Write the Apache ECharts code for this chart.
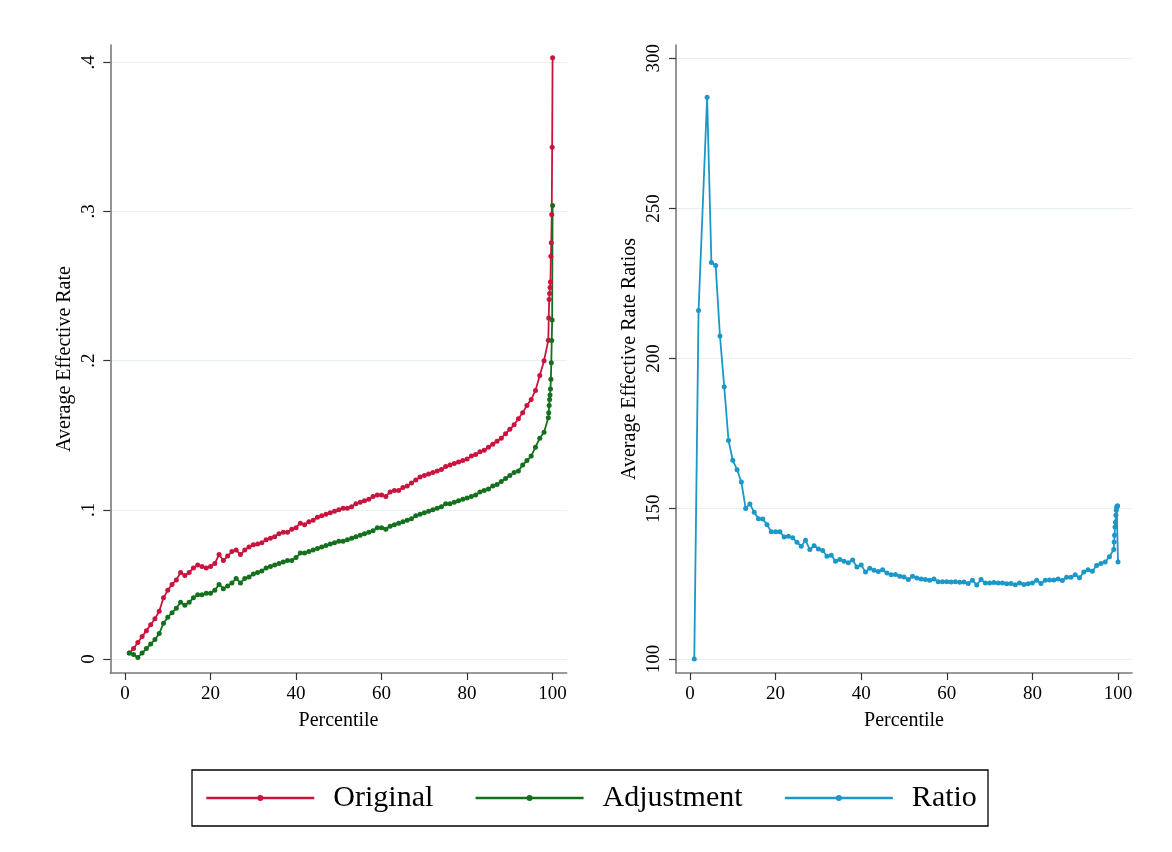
<!DOCTYPE html>
<html>
<head>
<meta charset="utf-8">
<title>Average Effective Rate by Percentile</title>
<script src="https://cdn.jsdelivr.net/npm/echarts@6/dist/echarts.min.js"></script>
<style>
  html, body { margin: 0; padding: 0; background: #ffffff; }
  #chart { width: 1172px; height: 852px; }
</style>
</head>
<body>
<div id="chart"></div>
<script>
// Percentile positions: 1..99, then the top percentile split in tenths
const percentiles = [
  1, 2, 3, 4, 5, 6, 7, 8, 9, 10,
  11, 12, 13, 14, 15, 16, 17, 18, 19, 20,
  21, 22, 23, 24, 25, 26, 27, 28, 29, 30,
  31, 32, 33, 34, 35, 36, 37, 38, 39, 40,
  41, 42, 43, 44, 45, 46, 47, 48, 49, 50,
  51, 52, 53, 54, 55, 56, 57, 58, 59, 60,
  61, 62, 63, 64, 65, 66, 67, 68, 69, 70,
  71, 72, 73, 74, 75, 76, 77, 78, 79, 80,
  81, 82, 83, 84, 85, 86, 87, 88, 89, 90,
  91, 92, 93, 94, 95, 96, 97, 98, 99,
  99.1, 99.2, 99.3, 99.4, 99.5, 99.6, 99.7, 99.8, 99.9, 100
];

// Average effective rate, original schedule
const original = [
  0.004, 0.007, 0.011, 0.015, 0.019, 0.023, 0.027, 0.032, 0.041, 0.046,
  0.050, 0.053, 0.058, 0.056, 0.058, 0.061, 0.063, 0.062, 0.061, 0.062,
  0.064, 0.070, 0.066, 0.069, 0.072, 0.073, 0.070, 0.073, 0.075, 0.0765,
  0.077, 0.078, 0.080, 0.081, 0.082, 0.084, 0.085, 0.085, 0.087, 0.088,
  0.091, 0.090, 0.092, 0.093, 0.095, 0.096, 0.097, 0.098, 0.099, 0.100,
  0.101, 0.101, 0.102, 0.104, 0.105, 0.106, 0.107, 0.109, 0.110, 0.110,
  0.109, 0.112, 0.113, 0.113, 0.115, 0.116, 0.118, 0.120, 0.122, 0.123,
  0.124, 0.125, 0.126, 0.127, 0.129, 0.130, 0.131, 0.132, 0.133, 0.134,
  0.136, 0.137, 0.139, 0.140, 0.142, 0.144, 0.146, 0.148, 0.151, 0.154,
  0.157, 0.161, 0.165, 0.170, 0.174, 0.180, 0.190, 0.200, 0.2136,
  0.2286, 0.241, 0.245, 0.249, 0.2527, 0.270, 0.279, 0.298, 0.343, 0.403
];

// Average effective rate after adjustment
const adjustment = [
  0.004, 0.003, 0.001, 0.004, 0.007, 0.010, 0.013, 0.017, 0.024, 0.028,
  0.031, 0.034, 0.038, 0.036, 0.038, 0.041, 0.043, 0.043, 0.044, 0.044,
  0.046, 0.050, 0.047, 0.049, 0.051, 0.054, 0.051, 0.054, 0.055, 0.057,
  0.058, 0.059, 0.061, 0.062, 0.063, 0.064, 0.065, 0.066, 0.066, 0.068,
  0.071, 0.071, 0.072, 0.073, 0.074, 0.075, 0.076, 0.077, 0.078, 0.079,
  0.079, 0.080, 0.081, 0.082, 0.083, 0.084, 0.085, 0.086, 0.088, 0.088,
  0.087, 0.089, 0.090, 0.091, 0.092, 0.093, 0.094, 0.096, 0.097, 0.098,
  0.099, 0.100, 0.101, 0.102, 0.104, 0.104, 0.105, 0.106, 0.107, 0.108,
  0.109, 0.110, 0.112, 0.113, 0.114, 0.116, 0.117, 0.119, 0.121, 0.123,
  0.125, 0.126, 0.130, 0.133, 0.136, 0.142, 0.148, 0.152, 0.1617,
  0.165, 0.170, 0.174, 0.177, 0.181, 0.1876, 0.1986, 0.2135, 0.2273, 0.304
];

// Ratio of original to adjusted rate (x100); percentile 3 has no ratio
const ratio = [
  100, 216, null, 287, 232, 231, 207.5, 190.6, 172.7, 166.1,
  163.0, 158.9, 150.1, 151.6, 148.8, 146.7, 146.6, 144.7, 142.3, 142.3,
  142.3, 140.6, 140.8, 140.3, 138.8, 137.5, 139.5, 136.4, 137.7, 136.6,
  136.1, 134.2, 134.5, 132.5, 133.1, 132.5, 132.0, 132.9, 130.6, 131.3,
  128.9, 130.2, 129.5, 129.1, 129.7, 128.6, 128.0, 128.1, 127.5, 127.3,
  126.4, 127.5, 126.9, 126.6, 126.4, 126.2, 126.6, 125.7, 125.7, 125.7,
  125.6, 125.7, 125.5, 125.6, 125.1, 126.2, 124.6, 126.4, 125.3, 125.3,
  125.4, 125.3, 125.3, 125.0, 125.1, 124.7, 125.3, 124.8, 125.0, 125.3,
  126.2, 125.1, 126.2, 126.3, 126.3, 126.6, 126.1, 127.2, 127.2, 128.0,
  127.0, 128.9, 129.7, 129.2, 131.1, 131.8, 132.3, 134.0, 136.4,
  138.9, 141.2, 143.9, 145.5, 147.8, 149.5, 150.5, 150.8, 151.0, 132.3
];

// Tick positions
const percentileTicks = [0, 20, 40, 60, 80, 100];
const rateTicks = [0, 0.1, 0.2, 0.3, 0.4];
const ratioTicks = [100, 150, 200, 250, 300];

const SERIF = "'Liberation Serif', 'Times New Roman', serif";
const COLORS = { original: '#c8143f', adjustment: '#14701c', ratio: '#1b97c8' };

function pairs(xs, ys) {
  return xs.map((x, i) => [x, ys[i]]);
}

function rateLabel(v) {
  if (v === 0) return '0';
  return String(Math.round(v * 10) / 10).replace(/^0\./, '.');
}

function xAxisCfg(gridIndex, min, max) {
  return {
    type: 'value', gridIndex, min, max,
    name: 'Percentile', nameLocation: 'middle', nameGap: 38,
    nameTextStyle: { fontFamily: SERIF, fontSize: 20, color: '#000' },
    axisLine: { show: true, onZero: false, lineStyle: { color: '#7a7a7a', width: 1.6 } },
    axisTick: { show: true, length: 7, customValues: percentileTicks, lineStyle: { color: '#333', width: 1.2 } },
    axisLabel: { customValues: percentileTicks, margin: 12, fontFamily: SERIF, fontSize: 19, color: '#000' },
    splitLine: { show: false }
  };
}

function yAxisCfg(gridIndex, min, max, ticks, name, fmt) {
  return {
    type: 'value', gridIndex, min, max,
    name, nameLocation: 'middle', nameGap: 36,
    nameTextStyle: { fontFamily: SERIF, fontSize: 20, color: '#000' },
    axisLine: { show: true, onZero: false, lineStyle: { color: '#7a7a7a', width: 1.6 } },
    axisTick: { show: true, length: 7, customValues: ticks, lineStyle: { color: '#333', width: 1.2 } },
    axisLabel: { customValues: ticks, rotate: 90, margin: 12, fontFamily: SERIF, fontSize: 19, color: '#000', formatter: fmt },
    splitLine: { show: true, lineStyle: { color: '#e8f0f2', width: 1.2 } }
  };
}

function lineSeries(name, data, color, xi, yi) {
  return {
    name, type: 'line', data,
    xAxisIndex: xi, yAxisIndex: yi,
    connectNulls: true,
    symbol: 'circle', symbolSize: 5,
    lineStyle: { color, width: 1.8 },
    itemStyle: { color },
    emphasis: { disabled: true },
    z: 3
  };
}

const chart = echarts.init(document.getElementById('chart'), null, { renderer: 'canvas' });

chart.setOption({
  animation: false,
  backgroundColor: '#ffffff',
  grid: [
    { left: 110.3, top: 45, width: 456.4, height: 628 },
    { left: 676, top: 45, width: 456, height: 628 }
  ],
  xAxis: [
    xAxisCfg(0, -3.44, 103.3),
    xAxisCfg(1, -3.27, 103.27)
  ],
  yAxis: [
    yAxisCfg(0, -0.0094, 0.4116, rateTicks, 'Average Effective Rate', rateLabel),
    yAxisCfg(1, 95.3, 304.4, ratioTicks, 'Average Effective Rate Ratios', v => String(v))
  ],
  legend: {
    left: 205, top: 782,
    padding: 0,
    itemWidth: 108, itemHeight: 7.5,
    itemGap: 41,
    selectedMode: false,
    data: ['Original', 'Adjustment', 'Ratio'],
    lineStyle: { width: 2.6 },
    textStyle: { fontFamily: SERIF, fontSize: 30, lineHeight: 32, color: '#000', padding: [0, 0, 0, 14] }
  },
  graphic: [{
    type: 'rect',
    shape: { x: 192, y: 770, width: 796, height: 56 },
    style: { fill: 'none', stroke: '#000', lineWidth: 1.3 },
    silent: true
  }],
  series: [
    lineSeries('Original', pairs(percentiles, original), COLORS.original, 0, 0),
    lineSeries('Adjustment', pairs(percentiles, adjustment), COLORS.adjustment, 0, 0),
    lineSeries('Ratio', pairs(percentiles, ratio), COLORS.ratio, 1, 1)
  ]
});
</script>
</body>
</html>
